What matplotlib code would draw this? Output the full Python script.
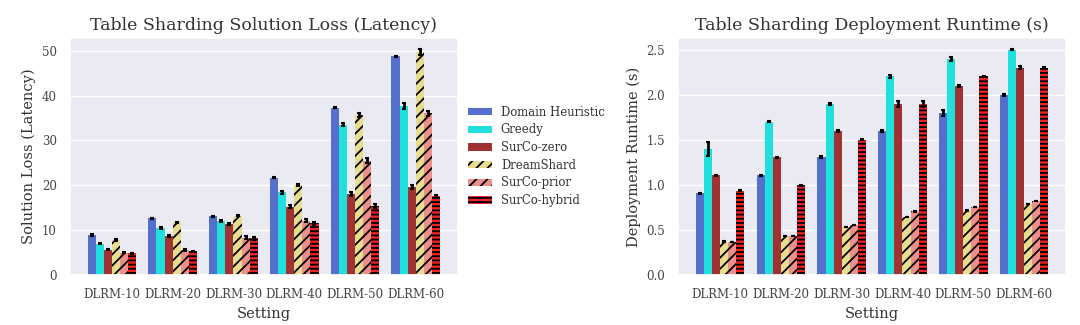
import numpy as np
import matplotlib
matplotlib.use("Agg")
import matplotlib.pyplot as plt
import seaborn as sns

sns.set_theme(style="darkgrid")
plt.rcParams["font.family"] = ["DejaVu Serif"]
plt.rcParams["hatch.linewidth"] = 1.3

settings = ["DLRM-10", "DLRM-20", "DLRM-30", "DLRM-40", "DLRM-50", "DLRM-60"]
methods = ["Domain Heuristic", "Greedy", "SurCo-zero", "DreamShard", "SurCo-prior", "SurCo-hybrid"]
colors = ["#5470cc", "#1fe0dd", "#a03234", "#e8dc8e", "#ec8e8a", "#ee2222"]
hatches = ["", "", "", "///", "///", "----"]

# solution loss (latency), one list per method across settings
loss = {
    "Domain Heuristic": [8.9, 12.6, 13.1, 21.7, 37.3, 48.7],
    "Greedy":           [7.0, 10.5, 12.1, 18.4, 33.5, 37.7],
    "SurCo-zero":       [5.6, 8.7, 11.3, 15.2, 18.0, 19.7],
    "DreamShard":       [7.8, 11.7, 13.2, 20.0, 35.6, 49.7],
    "SurCo-prior":      [5.0, 5.6, 8.3, 12.1, 25.5, 36.0],
    "SurCo-hybrid":     [4.8, 5.3, 8.2, 11.5, 15.4, 17.5],
}
loss_err = {
    "Domain Heuristic": [0.2, 0.2, 0.15, 0.15, 0.15, 0.1],
    "Greedy":           [0.15, 0.2, 0.2, 0.3, 0.35, 0.6],
    "SurCo-zero":       [0.1, 0.15, 0.2, 0.35, 0.4, 0.45],
    "DreamShard":       [0.2, 0.2, 0.15, 0.2, 0.5, 0.6],
    "SurCo-prior":      [0.2, 0.2, 0.3, 0.4, 0.6, 0.6],
    "SurCo-hybrid":     [0.15, 0.15, 0.3, 0.35, 0.4, 0.4],
}

# deployment runtime (s)
runtime = {
    "Domain Heuristic": [0.905, 1.105, 1.305, 1.60, 1.80, 1.995],
    "Greedy":           [1.40, 1.70, 1.90, 2.205, 2.40, 2.50],
    "SurCo-zero":       [1.105, 1.305, 1.60, 1.90, 2.10, 2.30],
    "DreamShard":       [0.367, 0.43, 0.534, 0.642, 0.716, 0.79],
    "SurCo-prior":      [0.367, 0.43, 0.556, 0.705, 0.753, 0.82],
    "SurCo-hybrid":     [0.935, 0.998, 1.50, 1.90, 2.205, 2.30],
}
runtime_err = {
    "Domain Heuristic": [0.01, 0.01, 0.01, 0.01, 0.03, 0.01],
    "Greedy":           [0.08, 0.005, 0.01, 0.02, 0.02, 0.005],
    "SurCo-zero":       [0.005, 0.005, 0.01, 0.03, 0.01, 0.015],
    "DreamShard":       [0.005, 0.003, 0.003, 0.003, 0.003, 0.003],
    "SurCo-prior":      [0.003, 0.003, 0.003, 0.003, 0.003, 0.003],
    "SurCo-hybrid":     [0.005, 0.005, 0.005, 0.03, 0.005, 0.01],
}

fig = plt.figure(figsize=(10.8, 3.25), dpi=100)
ax1 = fig.add_axes([0.0648, 0.154, 0.359, 0.729])
ax2 = fig.add_axes([0.628, 0.154, 0.359, 0.729])

x = np.arange(len(settings))
width = 0.8 / len(methods)


def draw(ax, data, err, title, ylabel):
    for i, m in enumerate(methods):
        pos = x - 0.4 + width * (i + 0.5)
        ax.bar(pos, data[m], width, color=colors[i], hatch=hatches[i],
               edgecolor="black", linewidth=0, label=m,
               yerr=err[m], error_kw=dict(ecolor="black", elinewidth=2, capsize=1.5, capthick=1.5))
    ax.set_xticks(x)
    ax.set_xticklabels(settings, fontsize=8.5, color="#444444")
    ax.tick_params(axis="y", labelsize=8.5, labelcolor="#444444")
    ax.xaxis.grid(False)
    ax.set_title(title, fontsize=12.5, color="#333333")
    ax.set_xlabel("Setting", fontsize=10.5, color="#333333")
    ax.set_ylabel(ylabel, fontsize=10.5, color="#333333")


draw(ax1, loss, loss_err, "Table Sharding Solution Loss (Latency)", "Solution Loss (Latency)")
draw(ax2, runtime, runtime_err, "Table Sharding Deployment Runtime (s)", "Deployment Runtime (s)")

leg = ax1.legend(loc="center left", bbox_to_anchor=(1.0, 0.5), frameon=False,
                 fontsize=8.4, labelspacing=0.4, handleheight=0.6)
for t in leg.get_texts():
    t.set_color("#333333")

fig.savefig("out.png", dpi=100)
